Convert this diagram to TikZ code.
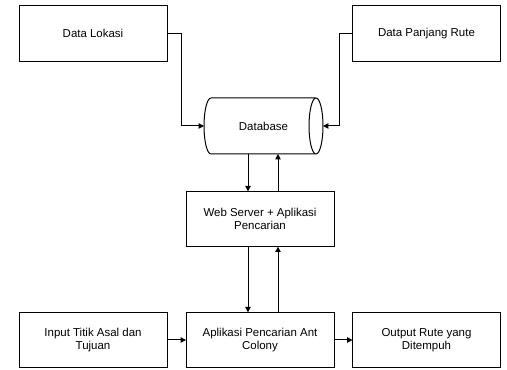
\documentclass[tikz,border=0pt]{standalone}
\usepackage{fontspec}
\setmainfont{Liberation Sans}
\usetikzlibrary{arrows.meta,calc}
\begin{document}
\begin{tikzpicture}[x=0.75pt,y=-0.75pt,
  box/.style={draw=black,line width=0.75pt,minimum width=111pt,minimum height=41.5pt,inner sep=0pt,outer sep=0pt,align=center,font=\fontsize{8.6}{10}\selectfont},
  conn/.style={draw=black,line width=0.75pt,-{Triangle[length=4pt,width=4pt]}}]
\useasboundingbox (0,0) rectangle (507,370);
\node[box] (dl) at (93,33.5) {Data Lokasi};
\node[box] (dpr) at (426.5,33.5) {Data Panjang Rute};
\node[box,draw=none,minimum width=89.25pt,minimum height=42pt] (db) at (263.5,126) {Database};
\draw[line width=0.75pt] (211,98) arc[start angle=90,end angle=270,x radius=5.25pt,y radius=21pt] -- (316,154)
  (211,98) -- (316,98)
  (316,126) ellipse[x radius=5.25pt,y radius=21pt];
\node[box] (ws) at (260,219) {Web Server + Aplikasi\\Pencarian};
\node[box] (in) at (93,340) {Input Titik Asal dan\\Tujuan};
\node[box] (ap) at (260,340) {Aplikasi Pencarian Ant\\Colony};
\node[box] (out) at (426.5,340) {Output Rute yang\\Ditempuh};
\draw[conn] (dl.east) -- ++(14,0) |- (db.west);
\draw[conn] (dpr.west) -- ++(-13,0) |- (db.east);
\draw[conn] ([xshift=-9pt]ws.north |- db.south) -- ([xshift=-9pt]ws.north);
\draw[conn] ([xshift=13.5pt]ws.north) -- ([xshift=13.5pt]ws.north |- db.south);
\draw[conn] ([xshift=-9pt]ws.south) -- ([xshift=-9pt]ap.north);
\draw[conn] ([xshift=13.5pt]ap.north) -- ([xshift=13.5pt]ws.south);
\draw[conn] (in.east) -- (ap.west);
\draw[conn] (ap.east) -- (out.west);
\end{tikzpicture}
\end{document}
